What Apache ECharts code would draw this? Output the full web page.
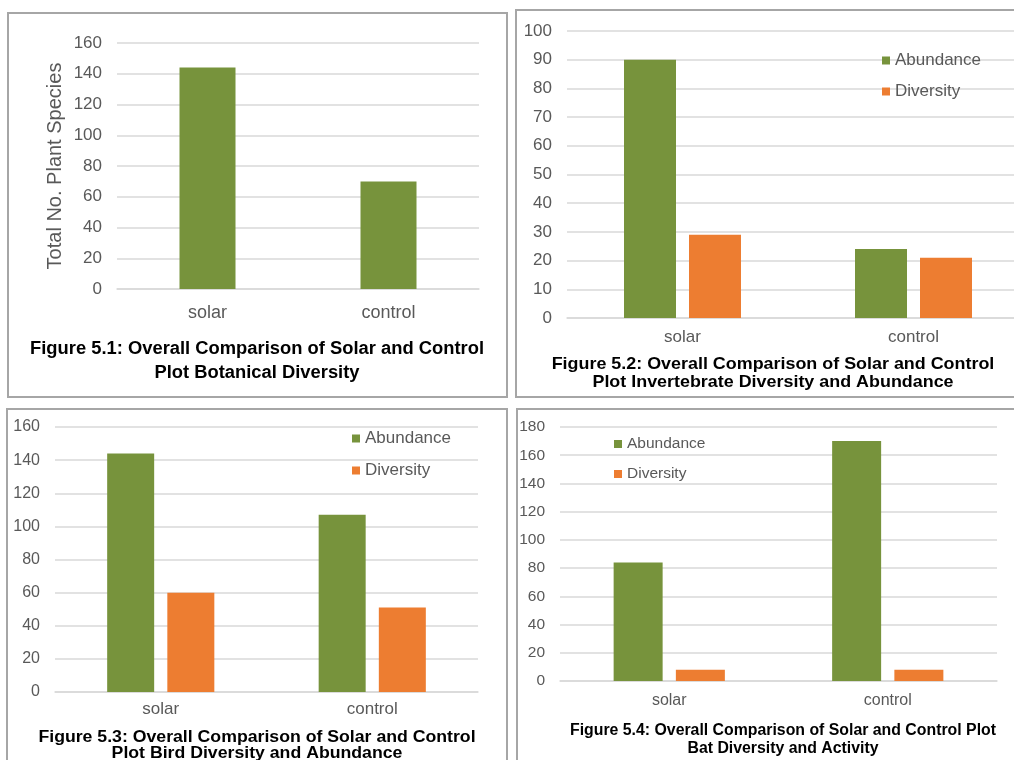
<!DOCTYPE html>
<html>
<head>
<meta charset="utf-8">
<script src="https://cdn.jsdelivr.net/npm/echarts@6/dist/echarts.min.js"></script>
<style>
html,body{margin:0;padding:0;background:#fff;}
#c{width:1014px;height:760px;}
</style>
</head>
<body>
<div id="c"></div>
<script>
// ---- data ----
const categories = ['solar', 'control'];
const botanicalSpecies = [144, 70];
const invertAbundance = [90, 24];
const invertDiversity = [29, 21];
const birdAbundance = [144, 107];
const birdDiversity = [60, 51];
const batAbundance = [84, 170];
const batDiversity = [8, 8];
const seriesNames = ['Abundance', 'Diversity'];
const axisMax = [160, 100, 160, 180];
const axisInterval = [20, 10, 20, 20];
const yAxisName1 = 'Total No. Plant Species';
const captions = [
  'Figure 5.1: Overall Comparison of Solar and Control\nPlot Botanical Diversity',
  'Figure 5.2: Overall Comparison of Solar and Control\nPlot Invertebrate Diversity and Abundance',
  'Figure 5.3: Overall Comparison of Solar and Control\nPlot Bird Diversity and Abundance',
  'Figure 5.4: Overall Comparison of Solar and Control Plot\nBat Diversity and Activity'
];

// ---- styling ----
const GREEN = '#77933C';
const ORANGE = '#ED7D31';
const TXT = '#595959';
const GRIDC = '#D9D9D9';
const FONT = '"Liberation Sans", Arial, sans-serif';

const grids = [
  {left: 117, top: 43, width: 362, height: 246, outerBoundsMode: 'none'},
  {left: 567, top: 31, width: 462, height: 287, outerBoundsMode: 'none'},
  {left: 55, top: 427, width: 423, height: 265, outerBoundsMode: 'none'},
  {left: 560, top: 427, width: 437, height: 254, outerBoundsMode: 'none'}
];
const tickFont = [17, 17, 16, 15.5];
const catFont = [18, 17, 17, 16];
const catMargin = [15, 11, 9, 12];

function xAx(i) {
  return {
    type: 'category', gridIndex: i, data: categories,
    axisLine: {show: true, lineStyle: {color: GRIDC, width: 1.5}},
    axisTick: {show: false},
    axisLabel: {color: TXT, fontSize: catFont[i], fontFamily: FONT, margin: catMargin[i]}
  };
}
function yAx(i) {
  const o = {
    type: 'value', gridIndex: i, min: 0, max: axisMax[i], interval: axisInterval[i],
    axisLine: {show: false}, axisTick: {show: false},
    splitLine: {show: true, lineStyle: {color: GRIDC, width: 1.5}},
    axisLabel: {color: TXT, fontSize: tickFont[i], fontFamily: FONT, margin: 15}
  };
  if (i === 0) {
    o.name = yAxisName1;
    o.nameLocation = 'middle';
    o.nameGap = 52;
    o.nameTextStyle = {color: TXT, fontSize: 20, fontFamily: FONT};
  }
  return o;
}
function bar(i, name, data, color, bw, gap) {
  return {
    type: 'bar', name: name, xAxisIndex: i, yAxisIndex: i, data: data,
    barWidth: bw, barGap: gap, itemStyle: {color: color},
    silent: true, animation: false
  };
}
function legend(left, top, fs, gap) {
  return {
    left: left, top: top, orient: 'vertical', itemWidth: 8, itemHeight: 8,
    icon: 'rect', itemGap: gap, data: seriesNames,
    textStyle: {color: TXT, fontSize: fs, fontFamily: FONT}
  };
}
function caption(i, cx, top, fs, lh, sx) {
  return {
    type: 'text', x: cx, y: top, scaleX: sx, silent: true,
    style: {
      text: captions[i], x: 0, y: 0, align: 'center', verticalAlign: 'top',
      fill: '#000', font: 'bold ' + fs + 'px ' + FONT, lineHeight: lh
    }
  };
}
function border(x, y, w, h) {
  return {type: 'rect', shape: {x: x, y: y, width: w, height: h},
    style: {fill: 'none', stroke: '#A6A6A6', lineWidth: 2}, silent: true};
}

const chart = echarts.init(document.getElementById('c'));
chart.setOption({
  animation: false,
  backgroundColor: '#fff',
  grid: grids,
  xAxis: [0, 1, 2, 3].map(xAx),
  yAxis: [0, 1, 2, 3].map(yAx),
  legend: [legend(877, 47, 17, 14), legend(347, 425, 17, 15), legend(609, 431, 15.5, 14)],
  graphic: [
    border(8, 13, 499, 384),
    border(516, 10, 520, 387),
    border(7, 409, 500, 400),
    border(517, 409, 520, 400),
    caption(0, 257, 337, 18, 24, 1.02),
    caption(1, 773, 355, 16.5, 18, 1.085),
    caption(2, 257, 730, 16, 16, 1.105),
    caption(3, 783, 722, 16, 18, 0.99)
  ],
  series: [
    bar(0, 'Total', botanicalSpecies, GREEN, 56, '0%'),
    bar(1, seriesNames[0], invertAbundance, GREEN, 52, '25%'),
    bar(1, seriesNames[1], invertDiversity, ORANGE, 52, '25%'),
    bar(2, seriesNames[0], birdAbundance, GREEN, 47, '28%'),
    bar(2, seriesNames[1], birdDiversity, ORANGE, 47, '28%'),
    bar(3, seriesNames[0], batAbundance, GREEN, 49, '27%'),
    bar(3, seriesNames[1], batDiversity, ORANGE, 49, '27%')
  ]
});
</script>
</body>
</html>
